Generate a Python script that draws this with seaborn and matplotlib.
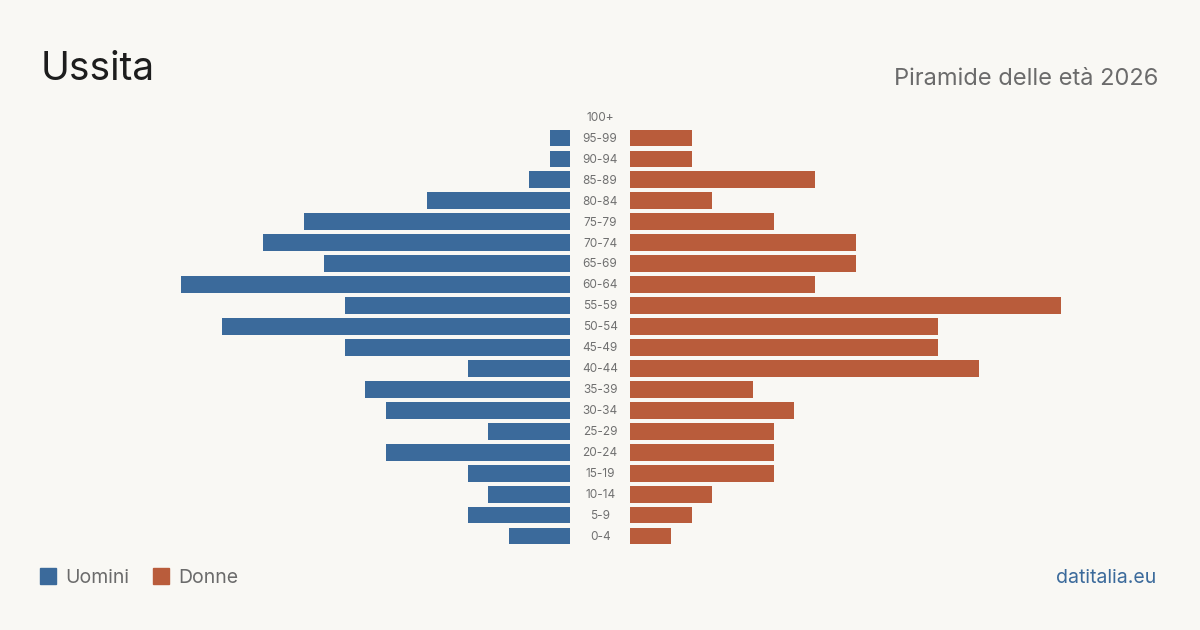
import numpy as np
import pandas as pd
import matplotlib
matplotlib.use("Agg")
import matplotlib.pyplot as plt
import seaborn as sns

# data
ages = ["100+", "95-99", "90-94", "85-89", "80-84", "75-79", "70-74", "65-69",
        "60-64", "55-59", "50-54", "45-49", "40-44", "35-39", "30-34", "25-29",
        "20-24", "15-19", "10-14", "5-9", "0-4"]
uomini = [0, 1, 1, 2, 7, 13, 15, 12, 19, 11, 17, 11, 5, 10, 9, 4, 9, 5, 4, 5, 3]
donne = [0, 3, 3, 9, 4, 7, 11, 11, 9, 21, 15, 15, 17, 6, 8, 7, 7, 7, 4, 3, 2]

BG = "#f9f8f4"
BLUE = "#3b6a9b"
ORANGE = "#b95c3b"

sns.set_theme(style="white")
plt.rcParams["font.family"] = ["Inter", "DejaVu Sans"]

df = pd.DataFrame({"age": ages, "uomini": uomini, "donne": donne})

fig = plt.figure(figsize=(12, 6.3), dpi=100, facecolor=BG)
top = 1 - 106.5 / 630
bottom = 1 - 546.5 / 630
w = 430.5 / 1200
ax_l = fig.add_axes([139.5 / 1200, bottom, w, top - bottom])
ax_r = fig.add_axes([630 / 1200, bottom, w, top - bottom])

sns.barplot(data=df, x="uomini", y="age", orient="h", color=BLUE, width=0.8,
            saturation=1, linewidth=0, ax=ax_l)
sns.barplot(data=df, x="donne", y="age", orient="h", color=ORANGE, width=0.8,
            saturation=1, linewidth=0, ax=ax_r)

for ax in (ax_l, ax_r):
    ax.set_facecolor(BG)
    ax.set_ylim(len(ages) - 0.5, -0.5)
    ax.set_xlabel("")
    ax.set_ylabel("")
    ax.set_xticks([])
    ax.set_yticks([])
    for s in ax.spines.values():
        s.set_visible(False)

ax_l.set_xlim(21, 0)
ax_r.set_xlim(0, 21)

# age labels in the gap between the two halves
for i, a in enumerate(ages):
    ax_r.text(-1.46, i + 0.04, a, ha="center", va="center", fontsize=8.5,
              color="#707070", clip_on=False)

fig.text(41 / 1200, 1 - 80 / 630, "Ussita", fontsize=28, color="#1d1d1d",
         ha="left", va="baseline")
fig.text(1158 / 1200, 1 - 85 / 630, "Piramide delle età 2026", fontsize=17,
         color="#6b6b6b", ha="right", va="baseline")

# legend
for x0, lab, col in [(40, "Uomini", BLUE), (153, "Donne", ORANGE)]:
    fig.patches.append(plt.Rectangle((x0 / 1200, 1 - 584 / 630), 16 / 1200, 16 / 630,
                                     transform=fig.transFigure, color=col))
    fig.text((x0 + 25) / 1200, 1 - 583 / 630, lab, fontsize=14, color="#6b6b6b",
             ha="left", va="baseline")

fig.text(1156 / 1200, 1 - 583 / 630, "datitalia.eu", fontsize=14, color=BLUE,
         ha="right", va="baseline")

fig.savefig("out.png", dpi=100, facecolor=BG)
